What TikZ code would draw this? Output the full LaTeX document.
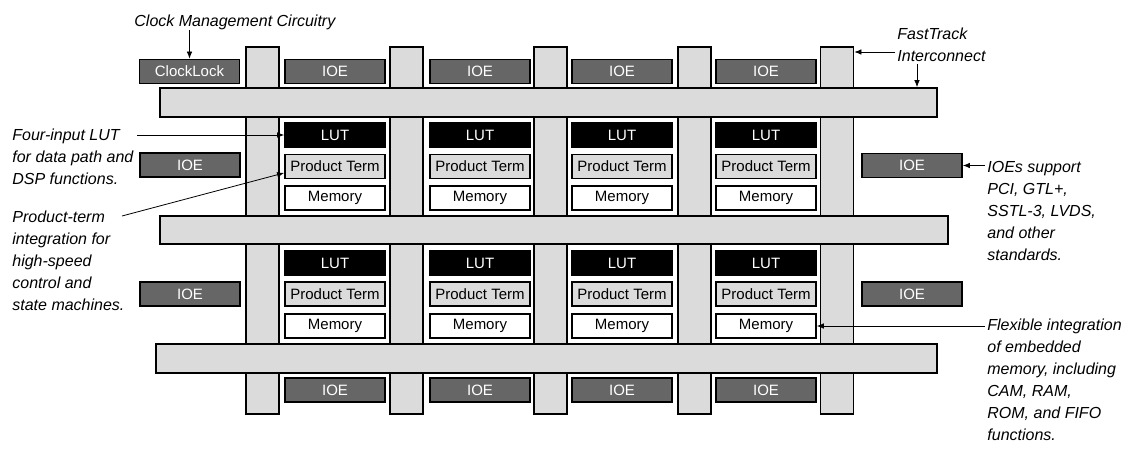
\documentclass[tikz,border=0pt]{standalone}
\usepackage{fontspec}
\setmainfont{Liberation Sans}
\usetikzlibrary{positioning,arrows.meta,calc}

\begin{document}
\begin{tikzpicture}[
          x=0.5pt, y=-0.5pt,
          every node/.style={font=\fontsize{7.5}{9}\selectfont, inner sep=0pt},
          wire/.style={draw=black, line width=0.9pt, fill=black!14},
          col/.style={wire, minimum width=16.5pt, minimum height=183.5pt},
          bar/.style={wire, minimum height=14.5pt},
          blk/.style={draw=black, line width=0.9pt, minimum width=50pt, minimum height=12pt},
          lut/.style={blk, fill=black, text=white},
          pterm/.style={blk, fill=black!14},
          mem/.style={blk, fill=white},
          ioe/.style={blk, fill=black!60, text=white},
          note/.style={font=\fontsize{8}{11}\selectfont\itshape, align=left},
          ptr/.style={-{Latex[length=3.5pt,width=2.8pt]}, line width=0.4pt}
      ]
        \useasboundingbox (0,0) rectangle (1130,460);

        % FastTrack interconnect
        \foreach \cx [count=\i] in {262.5,406.5,550.5,694.5,837}
          \node[col] (col\i) at (\cx,230.5) {};
        \node[bar, minimum width=388.5pt] (bar1) at (548.5,102.5) {};
        \node[bar, minimum width=394pt, minimum height=14pt] (bar2) at (554,230) {};
        \node[bar, minimum width=390.5pt] (bar3) at (546.5,358.5) {};

        % logic array blocks and IOEs
        \foreach \cx [count=\j] in {335,480,622,766} {
          \node[ioe] (ioeT\j) at (\cx,71.5) {IOE};
          \node[lut] (lut-1-\j) at (\cx,135) {LUT};
          \node[pterm] (pt-1-\j) at (\cx,166.5) {Product Term};
          \node[mem] (mem-1-\j) at (\cx,198) {Memory};
          \node[lut] (lut-2-\j) at (\cx,263) {LUT};
          \node[pterm] (pt-2-\j) at (\cx,294) {Product Term};
          \node[mem] (mem-2-\j) at (\cx,326) {Memory};
          \node[ioe] (ioeB\j) at (\cx,390) {IOE};
        }
        \node[ioe] (clk) at (189.5,71.5) {ClockLock};
        \node[ioe] (ioeL1) at (190,165) {IOE};
        \node[ioe] (ioeL2) at (190,294) {IOE};
        \node[ioe] (ioeR1) at (912,165.5) {IOE};
        \node[ioe] (ioeR2) at (912,294) {IOE};

        % callouts
        \node[note, anchor=west] (clktxt) at (134,22) {Clock Management Circuitry};
        \node[note, anchor=north west] (fttxt) at (897,28) {FastTrack\\Interconnect};
        \node[note, anchor=north west] (luttxt) at (12,129) {Four-input LUT\\for data path and\\DSP functions.};
        \node[note, anchor=north west] (pttxt) at (12,211) {Product-term\\integration for\\high-speed\\control and\\state machines.};
        \node[note, anchor=north west] (ioetxt) at (987,161) {IOEs support\\PCI, GTL+,\\SSTL-3, LVDS,\\and other\\standards.};
        \node[note, anchor=north west] (memtxt) at (987,319) {Flexible integration\\of embedded\\memory, including\\CAM, RAM,\\ROM, and FIFO\\functions.};

        \coordinate (ftA) at (895,52);
        \coordinate (ftB) at (917,64);
        \coordinate (lutA) at (137,135);
        \coordinate (ptA) at (122,216);
        \coordinate (ioeA) at (985,165.5);
        \coordinate (memA) at (985,326);

        \draw[ptr] (clk.north |- clktxt.south) -- (clk.north);
        \draw[ptr] (ftA) -- (ftA -| col5.east);
        \draw[ptr] (ftB) -- (ftB |- bar1.north);
        \draw[ptr] (lutA) -- (lut-1-1.west);
        \draw[ptr] (ptA) -- ($(pt-1-1.south west)!0.25!(pt-1-1.north west)$);
        \draw[ptr] (ioeA) -- (ioeR1.east);
        \draw[ptr] (memA) -- (mem-2-4.east);
      \end{tikzpicture}
\end{document}
